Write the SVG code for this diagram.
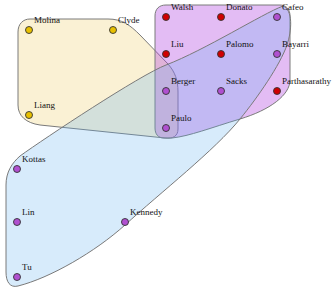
<svg xmlns="http://www.w3.org/2000/svg" width="332" height="295" viewBox="0 0 332 295">
<style>
.set{stroke:#7a7a7a;stroke-width:1}
.sy{fill:#f0d070;fill-opacity:0.3}
.sp{fill:#b040e0;fill-opacity:0.35}
.sb{fill:#60b0f0;fill-opacity:0.25}
.n{stroke:#333;stroke-width:0.9}
.y{fill:#e8c000}
.r{fill:#d00000}
.p{fill:#b050d0}
text{font-family:"Liberation Serif","Times New Roman",serif;font-size:9px;fill:#111}
</style>
<rect width="332" height="295" fill="#fff"/>
<g id="sets">
<path id="set-yellow" class="set sy" d="M30,19 L108,19 C122,19 130,25 140,35 L168,64 C175,72 178,80 178,92 L178,129 C178,136 173,139 165,138 L40,125 C26,123 18,116 18,105 L18,32 C18,24 23,19 30,19 Z"/>
<path id="set-purple" class="set sp" d="M166,5 L280,5 C286,5 290,9 290,16 L290,80 C290,95 270,110 240,119 C210,128 190,136 172,138 L164,138 C158,138 155,134 155,128 L155,16 C155,9 159,5 166,5 Z"/>
<path id="set-blue" class="set sb" d="M283,6 C262,14 205,50 166,65 C140,75 45,138 20,156 C12,163 6,172 6,185 L6,272 C6,282 10,288 18,286 C50,278 95,252 125,225 C160,193 215,150 240,119 C258,97 280,65 287,45 C292,30 293,10 283,6 Z"/>
</g>
<g id="connectors"></g>
<g id="nodes">
<g id="molina"><circle class="n y" cx="29" cy="30" r="3.5"/><text x="34" y="23">Molina</text></g>
<g id="clyde"><circle class="n y" cx="113" cy="30" r="3.5"/><text x="118" y="23">Clyde</text></g>
<g id="liang"><circle class="n y" cx="29" cy="115" r="3.5"/><text x="34" y="108">Liang</text></g>
<g id="walsh"><circle class="n r" cx="166" cy="17" r="3.5"/><text x="171" y="10">Walsh</text></g>
<g id="donato"><circle class="n r" cx="221" cy="17" r="3.5"/><text x="226" y="10">Donato</text></g>
<g id="cafeo"><circle class="n p" cx="277" cy="17" r="3.5"/><text x="282" y="10">Cafeo</text></g>
<g id="liu"><circle class="n r" cx="166" cy="54" r="3.5"/><text x="171" y="47">Liu</text></g>
<g id="palomo"><circle class="n r" cx="221" cy="54" r="3.5"/><text x="226" y="47">Palomo</text></g>
<g id="bayarri"><circle class="n p" cx="277" cy="54" r="3.5"/><text x="282" y="47">Bayarri</text></g>
<g id="berger"><circle class="n p" cx="166" cy="91" r="3.5"/><text x="171" y="84">Berger</text></g>
<g id="sacks"><circle class="n p" cx="221" cy="91" r="3.5"/><text x="226" y="84">Sacks</text></g>
<g id="parthasarathy"><circle class="n r" cx="277" cy="91" r="3.5"/><text x="282" y="84">Parthasarathy</text></g>
<g id="paulo"><circle class="n p" cx="166" cy="128" r="3.5"/><text x="171" y="121">Paulo</text></g>
<g id="kottas"><circle class="n p" cx="17" cy="169" r="3.5"/><text x="22" y="162">Kottas</text></g>
<g id="lin"><circle class="n p" cx="17" cy="222" r="3.5"/><text x="22" y="215">Lin</text></g>
<g id="kennedy"><circle class="n p" cx="125" cy="222" r="3.5"/><text x="130" y="215">Kennedy</text></g>
<g id="tu"><circle class="n p" cx="17" cy="277" r="3.5"/><text x="22" y="270">Tu</text></g>
</g>
</svg>
